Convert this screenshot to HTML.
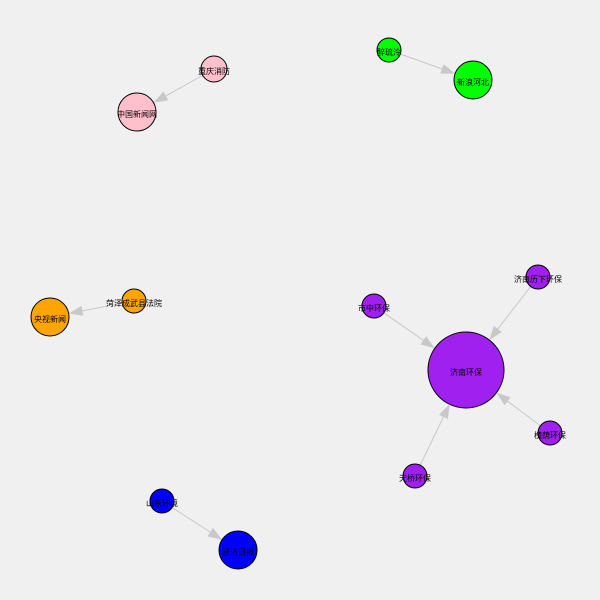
<!DOCTYPE html>
<html><head><meta charset="utf-8"><style>
html,body{margin:0;padding:0;background:#f0f0f0;}
svg{display:block;}
text{font-family:"Liberation Sans","Noto Sans CJK SC",sans-serif;font-size:8px;fill:#000;}
</style></head><body>
<svg id="chart" width="600" height="600"></svg>
<script>
const nodeNames = ["重庆消防","中国新闻网","醉琉泠","新浪河北","菏泽成武县法院","央视新闻","市中环保","济南历下环保","济南环保","槐荫环保","天桥环保","山东环境","经济日报"];
const nodeX = [214,137,389,473,134,50,374,538,466,550,415,162,238];
const nodeY = [69,112,50,80,301,317,306,277,370,433,476,501,550];
const nodeR = [13,19,12,19,12,19,12,12,38,12,12,12,19];
const nodeColors = ["#ffc0cb","#ffc0cb","#00ff00","#00ff00","#ffa500","#ffa500","#a020f0","#a020f0","#a020f0","#a020f0","#a020f0","#0000ff","#0000ff"];
const edgeSource = [0,2,4,6,7,9,10,11];
const edgeTarget = [1,3,5,8,8,8,8,12];
const NS="http://www.w3.org/2000/svg";
const svg=document.getElementById('chart');
const eg=document.createElementNS(NS,'g');


svg.appendChild(eg);
for(let i=0;i<edgeSource.length;i++){
  const s=edgeSource[i],t=edgeTarget[i];
  const dx=nodeX[t]-nodeX[s],dy=nodeY[t]-nodeY[s],L=Math.hypot(dx,dy);
  const ux=dx/L,uy=dy/L;
  const tipX=nodeX[t]-ux*nodeR[t],tipY=nodeY[t]-uy*nodeR[t];
  const bx=tipX-ux*14,by=tipY-uy*14;
  const line=document.createElementNS(NS,'line');
  
  
  line.setAttribute('x1',nodeX[s]);line.setAttribute('y1',nodeY[s]);
  line.setAttribute('x2',bx);line.setAttribute('y2',by);
  line.setAttribute('stroke','#c8c8c8');line.setAttribute('stroke-width','1');
  eg.appendChild(line);
  const ar=document.createElementNS(NS,'polygon');
  
  
  const px=-uy*5,py=ux*5;
  ar.setAttribute('points',`${tipX},${tipY} ${bx+px},${by+py} ${bx-px},${by-py}`);
  ar.setAttribute('fill','#c8c8c8');
  eg.appendChild(ar);
}
for(let i=0;i<nodeNames.length;i++){
  const c=document.createElementNS(NS,'circle');
  
  
  c.setAttribute('cx',nodeX[i]);c.setAttribute('cy',nodeY[i]);c.setAttribute('r',nodeR[i]);
  c.setAttribute('fill',nodeColors[i]);c.setAttribute('stroke','#000');c.setAttribute('stroke-width','1');
  svg.appendChild(c);
}
for(let i=0;i<nodeNames.length;i++){
  const tx=document.createElementNS(NS,'text');
  
  
  tx.setAttribute('x',nodeX[i]);tx.setAttribute('y',nodeY[i]+5);
  tx.setAttribute('text-anchor','middle');
  tx.textContent=nodeNames[i];
  svg.appendChild(tx);
}
</script>
</body></html>
